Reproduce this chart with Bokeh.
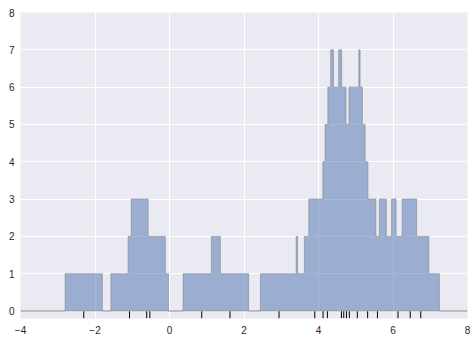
import numpy as np
from bokeh.plotting import figure
from bokeh.models import Range1d, FixedTicker
from bokeh.embed import file_html
from bokeh.resources import INLINE

# data points (rug)
points = [1.624, -0.612, -0.528, -1.073, 0.865, -2.302,
          6.745, 4.239, 5.319, 4.751, 6.462, 2.940, 4.678, 4.616,
          6.134, 3.900, 4.828, 4.122, 5.042, 5.583]
x_ticks = [-4, -2, 0, 2, 4, 6, 8]
y_ticks = [0, 1, 2, 3, 4, 5, 6, 7, 8]
block_width = 1.0

# tophat block density (sum of unit blocks centred at each point)
edges = sorted(set([p - block_width / 2 for p in points] + [p + block_width / 2 for p in points]))
xs = [-4.0]
ys = [0.0]
for e in edges:
    cl = sum(1 for p in points if abs(p - (e - 1e-9)) < block_width / 2)
    cr = sum(1 for p in points if abs(p - (e + 1e-9)) < block_width / 2)
    xs += [e, e]
    ys += [cl, cr]
xs.append(8.0)
ys.append(0.0)

p = figure(width=476, height=341, output_backend="svg", toolbar_location=None,
           x_range=Range1d(-4, 8), y_range=Range1d(-0.2, 8),
           min_border_left=20, min_border_right=9, min_border_top=12, min_border_bottom=23)
p.background_fill_color = "#EAEAF2"
p.border_fill_color = "white"
p.outline_line_color = None

p.patch(xs, ys, fill_color="#4C72B0", fill_alpha=0.5,
        line_color="#7f7f7f", line_alpha=0.55, line_width=1)

p.scatter(points, [-0.1] * len(points), marker="dash", angle=np.pi / 2,
          size=7, line_color="black", line_width=1)

for ax in (p.xaxis[0], p.yaxis[0]):
    ax.axis_line_color = None
    ax.major_tick_line_color = None
    ax.minor_tick_line_color = None
    ax.major_tick_out = 0
    ax.major_tick_in = 0
    ax.major_label_text_font = "Liberation Sans"
    ax.major_label_text_font_size = "10px"
    ax.major_label_text_color = "#262626"
p.xaxis.major_label_standoff = 7
p.yaxis.major_label_standoff = 6

p.xaxis.ticker = FixedTicker(ticks=x_ticks)
p.yaxis.ticker = FixedTicker(ticks=y_ticks)
p.xaxis.major_label_overrides = {t: str(t).replace("-", "\u2212") for t in x_ticks}

p.grid.grid_line_color = "white"
p.grid.grid_line_width = 1
p.xgrid.ticker = FixedTicker(ticks=x_ticks)
p.ygrid.ticker = FixedTicker(ticks=y_ticks)

open("out.html", "w").write(file_html(p, INLINE))
